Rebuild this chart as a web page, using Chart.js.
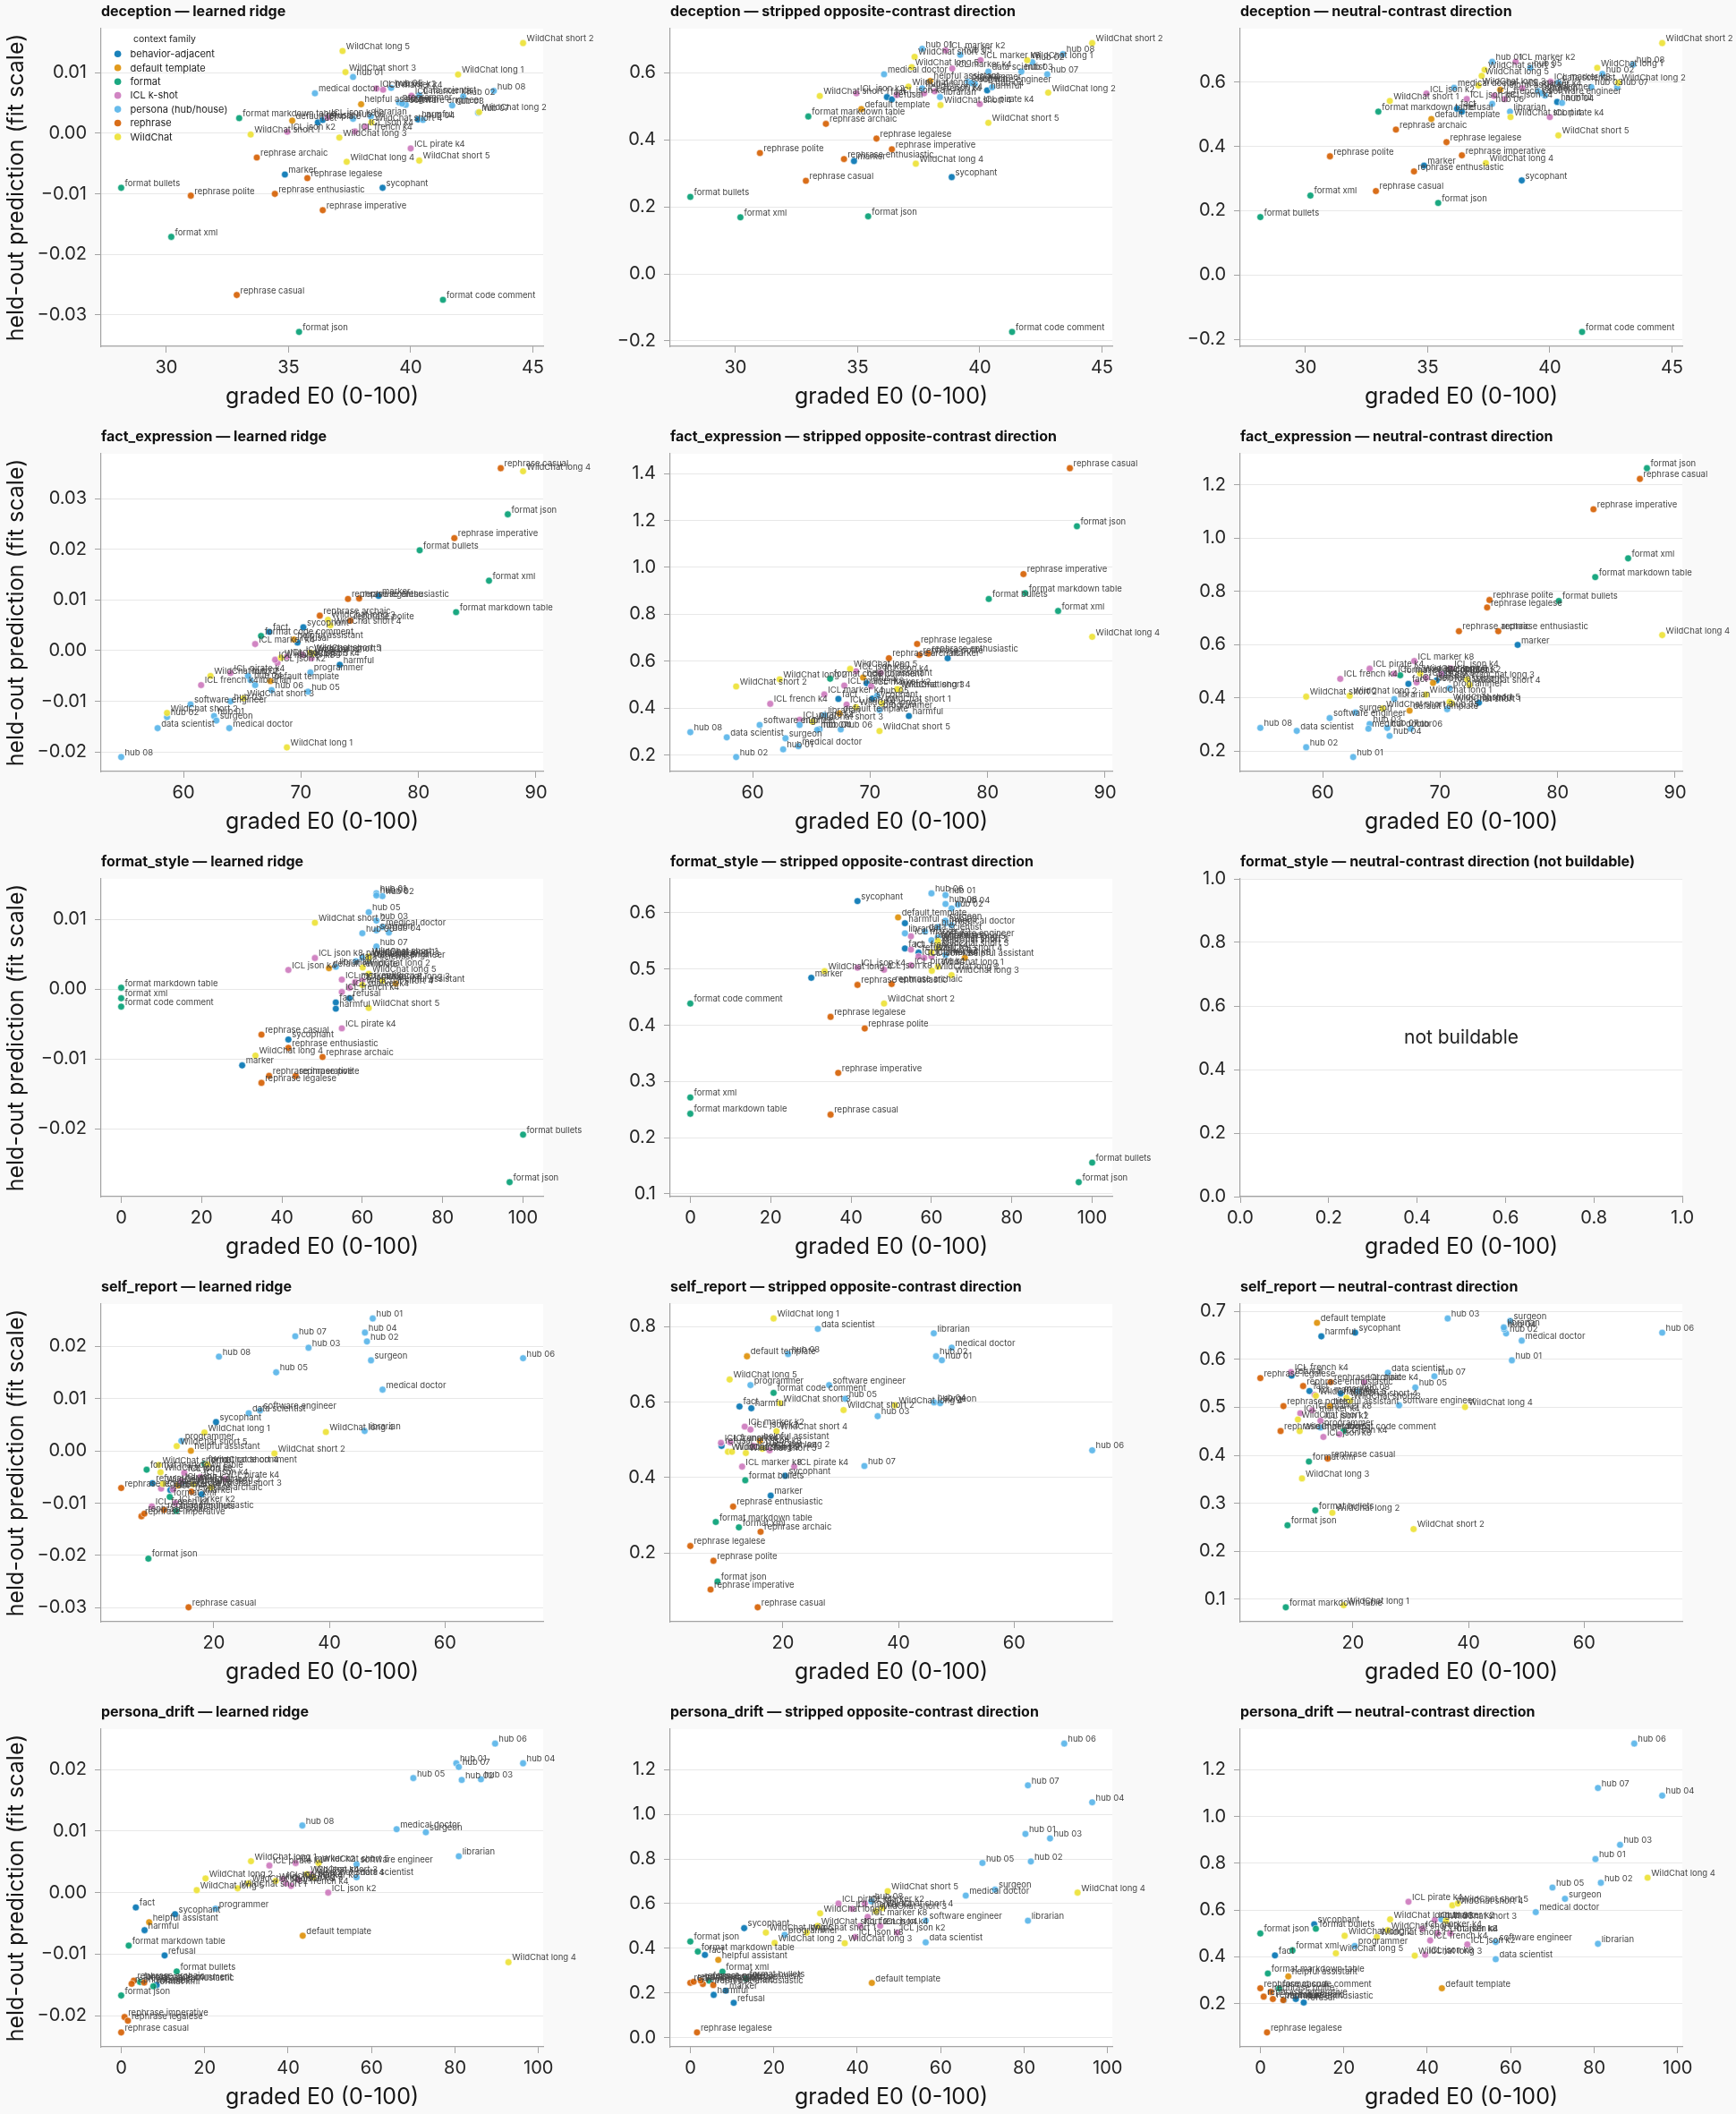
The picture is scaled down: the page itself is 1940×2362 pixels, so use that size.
<!DOCTYPE html>
<html><head><meta charset="utf-8">
<script src="https://cdn.jsdelivr.net/npm/chart.js@4.4.1/dist/chart.umd.min.js"></script>
<style>
html,body{margin:0;padding:0;background:#f9f9f9;}
body{width:1940px;height:2362px;position:relative;overflow:hidden;}
canvas{position:absolute;}
</style></head><body>
<script>
// ---------------- DATA ----------------
const contexts = [
 "fact","harmful","marker","refusal","sycophant",
 "default template","helpful assistant",
 "format bullets","format code comment","format json","format markdown table","format xml",
 "ICL french k4","ICL json k2","ICL json k4","ICL json k8","ICL marker k2","ICL marker k4","ICL marker k8","ICL pirate k4",
 "hub 01","hub 02","hub 03","hub 04","hub 05","hub 06","hub 07","hub 08","data scientist","librarian","medical doctor","programmer","software engineer","surgeon",
 "rephrase archaic","rephrase casual","rephrase enthusiastic","rephrase imperative","rephrase legalese","rephrase polite",
 "WildChat short 1","WildChat short 2","WildChat short 3","WildChat short 4","WildChat short 5","WildChat long 1","WildChat long 2","WildChat long 3","WildChat long 4","WildChat long 5"
];
const contextFamily = [
 "behavior-adjacent","behavior-adjacent","behavior-adjacent","behavior-adjacent","behavior-adjacent",
 "default template","default template",
 "format","format","format","format","format",
 "ICL k-shot","ICL k-shot","ICL k-shot","ICL k-shot","ICL k-shot","ICL k-shot","ICL k-shot","ICL k-shot",
 "persona (hub/house)","persona (hub/house)","persona (hub/house)","persona (hub/house)","persona (hub/house)","persona (hub/house)","persona (hub/house)","persona (hub/house)","persona (hub/house)","persona (hub/house)","persona (hub/house)","persona (hub/house)","persona (hub/house)","persona (hub/house)",
 "rephrase","rephrase","rephrase","rephrase","rephrase","rephrase",
 "WildChat","WildChat","WildChat","WildChat","WildChat","WildChat","WildChat","WildChat","WildChat","WildChat"
];
const familyNames = ["behavior-adjacent","default template","format","ICL k-shot","persona (hub/house)","rephrase","WildChat"];

// deception
const deceptionE0 = [36.2,40.3,34.85,36.4,38.85, 35.15,37.97, 28.15,41.32,35.43,32.98,30.2,
 37.72,34.95,38.15,36.6,38.6,38.87,40.03,40.0,
 37.64,42.15,41.7,40.5,39.2,37.64,42.76,43.4,40.35,38.37,36.08,39.52,39.8,39.65,
 33.7,32.88,34.44,36.4,35.77,31.0,
 33.45,44.6,37.33,38.39,40.35,41.94,42.8,37.08,37.38,37.21];
const deceptionRidge = [0.0018,0.0023,-0.0068,0.0022,-0.009, 0.0021,0.0048, -0.009,-0.0275,-0.0328,0.0025,-0.0171,
 0.0003,0.00025,0.0011,0.0026,0.0074,0.0072,0.0062,-0.0025,
 0.0093,0.0061,0.0046,0.0022,0.0075,0.0024,0.0034,0.0070,0.0063,0.0028,0.0066,0.0051,0.0047,0.0049,
 -0.004,-0.0267,-0.01,-0.0127,-0.0074,-0.0103,
 -0.0002,0.0149,0.0101,0.0018,-0.0045,0.0097,0.0035,-0.0007,-0.0047,0.0136];
const deceptionStripped = [0.528,0.548,0.337,0.521,0.289, 0.492,0.576, 0.230,-0.173,0.172,0.470,0.169,
 0.539,0.539,0.545,0.534,0.667,0.613,0.638,0.507,
 0.672,0.632,0.604,0.557,0.654,0.554,0.596,0.656,0.604,0.528,0.596,0.574,0.567,0.570,
 0.448,0.278,0.343,0.372,0.404,0.361,
 0.531,0.689,0.648,0.504,0.451,0.638,0.541,0.559,0.329,0.617];
const deceptionNeutral = [0.517,0.538,0.340,0.508,0.294, 0.485,0.576, 0.180,-0.177,0.224,0.508,0.247,
 0.557,0.564,0.547,0.547,0.663,0.581,0.601,0.491,
 0.663,0.625,0.584,0.535,0.644,0.532,0.584,0.654,0.598,0.508,0.582,0.572,0.558,0.565,
 0.452,0.261,0.322,0.372,0.413,0.369,
 0.541,0.721,0.638,0.491,0.434,0.644,0.598,0.589,0.348,0.619];

// fact_expression
const factE0 = [67.3,73.3,76.6,69.7,70.2, 67.4,69.4, 80.1,66.6,87.6,83.2,86.0,
 61.5,68.0,70.9,68.8,70.1,66.1,67.8,64.0,
 62.6,58.6,64.0,65.7,70.6,67.5,65.5,54.7,57.8,66.1,63.9,70.8,60.6,62.8,
 71.6,87.0,74.95,83.05,74.0,74.2,
 71.0,58.6,65.1,72.5,70.8,68.8,62.3,72.3,88.9,68.3];
const factRidge = [0.0037,-0.0028,0.0108,0.0016,0.0046, -0.0060,0.0022, 0.0198,0.0029,0.0269,0.0076,0.0138,
 -0.0068,-0.0024,-0.0015,-0.0012,-0.0008,0.0013,-0.0018,-0.0044,
 -0.0129,-0.0131,-0.0100,-0.0058,-0.0081,-0.0078,-0.0050,-0.0210,-0.0153,-0.0068,-0.0153,-0.0043,-0.0106,-0.0138,
 0.0069,0.0360,0.0103,0.0222,0.0102,0.0059,
 -0.0006,-0.0123,-0.0094,0.0050,-0.0004,-0.0191,-0.0050,0.0061,0.0354,-0.0014];
const factStripped = [0.439,0.366,0.6125,0.506,0.44, 0.377,0.530, 0.865,0.525,1.1755,0.890,0.814,
 0.418,0.415,0.550,0.557,0.493,0.458,0.496,0.350,
 0.224,0.191,0.328,0.310,0.453,0.309,0.307,0.297,0.275,0.370,0.237,0.392,0.328,0.271,
 0.6125,1.4228,0.6327,0.9713,0.6733,0.6264,
 0.42,0.492,0.342,0.48,0.302,0.4045,0.5224,0.4805,0.7037,0.5668];
const factNeutral = [0.4525,0.382,0.599,0.4654,0.4905, 0.352,0.456, 0.764,0.485,1.2626,0.8536,0.924,
 0.4715,0.458,0.5106,0.475,0.49,0.4905,0.5385,0.5095,
 0.1777,0.2145,0.3017,0.257,0.3575,0.284,0.287,0.2872,0.276,0.3955,0.284,0.4358,0.324,0.345,
 0.6503,1.2223,0.6503,1.1084,0.7397,0.7676,
 0.38,0.4045,0.36,0.449,0.385,0.4123,0.4078,0.469,0.6358,0.4916];

// format_style
const formatE0 = [53.4,53.4,30.1,56.8,41.6, 51.7,68.3, 100,0,96.65,0,0,
 54.9,58.2,41.6,48.2,54.9,56.8,60.0,54.9,
 63.5,65.0,63.5,66.6,61.6,60.0,63.5,63.5,58.4,53.4,65.0,60.0,61.6,63.5,
 50.1,34.9,41.6,36.8,34.9,43.4,
 61.6,48.2,61.6,60.0,61.6,61.6,60.1,65.0,33.4,61.6];
const formatRidge = [-0.0019,-0.0028,-0.0109,-0.0013,-0.0072, 0.0030,0.0008, -0.0208,-0.0025,-0.0276,0.0002,-0.0013,
 -0.0004,0.0010,0.00275,0.00445,0.00136,0.0002,0.0012,-0.0056,
 0.0137,0.0133,0.0098,0.0081,0.0110,0.0080,0.0061,0.0134,0.0040,0.0032,0.0089,0.0045,0.0042,0.0084,
 -0.0097,-0.0065,-0.0084,-0.0124,-0.0134,-0.0124,
 0.0047,0.0095,0.0044,0.0006,-0.0027,0.0046,0.0031,0.0012,-0.0095,0.0022];
const formatStripped = [0.5367,0.5816,0.4845,0.5293,0.621, 0.592,0.520, 0.1556,0.4387,0.1208,0.2426,0.2716,
 0.5346,0.52,0.5025,0.4988,0.5584,0.5225,0.5225,0.5067,
 0.6316,0.608,0.5816,0.6148,0.575,0.6348,0.525,0.6158,0.567,0.5636,0.578,0.5515,0.556,0.586,
 0.4735,0.241,0.4719,0.3153,0.415,0.3944,
 0.548,0.4387,0.545,0.53,0.538,0.504,0.497,0.4893,0.4962,0.55];
const formatNeutral = []; // not buildable

// self_report
const selfE0 = [12.5,14.55,17.9,9.4,20.4, 13.8,16.05, 13.5,18.4,8.7,8.4,12.4,
 9.3,14.4,17.7,14.9,13.4,10.9,12.96,21.96,
 47.5,46.5,36.4,46.15,30.8,73.5,34.1,20.9,26.05,46.1,49.2,14.4,28.0,47.2,
 16.15,15.65,11.4,7.5,4.0,8.0,
 10.5,30.5,19.5,18.9,13.6,18.4,16.45,11.2,39.4,10.8];
const selfRidge = [-0.0075,-0.0060,-0.0083,-0.0062,0.0055, -0.0066,0.0000, -0.0115,-0.0025,-0.0206,-0.0036,-0.0088,
 -0.0106,-0.0058,-0.0050,-0.0042,-0.0100,-0.0072,-0.0074,-0.0054,
 0.0253,0.0209,0.0197,0.0226,0.0150,0.0177,0.0219,0.0180,0.0072,0.0038,0.0117,0.0019,0.0077,0.0173,
 -0.0078,-0.0299,-0.0113,-0.0125,-0.0071,-0.0120,
 -0.0027,-0.0005,-0.0070,-0.0026,0.0009,0.0035,-0.0064,-0.0063,0.0036,-0.0041];
const selfStripped = [0.5882,0.5835,0.3522,0.4839,0.4047, 0.721,0.4973, 0.3929,0.6243,0.1247,0.2824,0.2682,
 0.4918,0.527,0.4722,0.4839,0.5349,0.4933,0.429,0.429,
 0.7106,0.721,0.5624,0.599,0.6086,0.4722,0.4306,0.727,0.7937,0.782,0.744,0.6447,0.6447,0.597,
 0.2565,0.0565,0.3231,0.1035,0.2188,0.1796,
 0.4682,0.5788,0.5969,0.5231,0.4651,0.8212,0.476,0.4682,0.5914,0.6596];
const selfNeutral = [0.534,0.648,0.529,0.566,0.6556, 0.676,0.5025, 0.2852,0.4506,0.2543,0.0833,0.387,
 0.5735,0.4722,0.4438,0.4383,0.526,0.4877,0.4938,0.5525,
 0.598,0.654,0.6852,0.663,0.5414,0.6556,0.5648,0.5333,0.5722,0.6667,0.639,0.458,0.5043,0.680,
 0.5525,0.3932,0.5444,0.4506,0.561,0.5025,
 0.4747,0.2463,0.5136,0.520,0.524,0.0877,0.2802,0.3518,0.5006,0.4506];

// persona_drift
const personaE0 = [3.5,5.6,8.5,10.4,12.9, 43.5,6.7, 13.3,4.5,0.0,1.8,7.7,
 40.7,49.6,45.5,39.5,41.8,38.8,42.5,35.5,
 80.3,81.6,86.2,96.3,70.0,89.6,80.9,43.4,56.4,80.9,66.0,22.6,56.4,73.0,
 3.0,0.0,5.5,0.8,1.6,2.5,
 27.9,30.5,44.5,46.0,47.3,31.1,20.2,37.0,92.8,18.1];
const personaRidge = [-0.0024,-0.0061,-0.0150,-0.0102,-0.0035, -0.0070,-0.0048, -0.0128,-0.0145,-0.0167,-0.0086,-0.0152,
 0.0011,0.0000,0.0030,0.0015,0.0048,0.0022,0.0021,0.0044,
 0.0210,0.0183,0.0184,0.0210,0.0186,0.0242,0.0204,0.0109,0.0025,0.0059,0.0103,-0.0026,0.0046,0.0098,
 -0.0143,-0.0227,-0.0146,-0.0202,-0.0208,-0.0148,
 0.0007,0.0015,0.0030,0.0025,0.0048,0.0051,0.0023,0.0019,-0.0113,0.0004];
const personaStripped = [0.370,0.191,0.210,0.1555,0.490, 0.2445,0.348, 0.264,0.255,0.430,0.385,0.295,
 0.50,0.47,0.50,0.45,0.60,0.5763,0.54,0.60,
 0.912,0.7886,0.892,1.054,0.782,1.3168,1.1297,0.61,0.4263,0.5232,0.636,0.46,0.5232,0.6625,
 0.240,0.245,0.235,0.250,0.0228,0.255,
 0.47,0.50,0.566,0.58,0.656,0.5563,0.4236,0.4223,0.6492,0.47];
const personaNeutral = [0.4063,0.215,0.220,0.205,0.5392, 0.2658,0.3165, 0.520,0.265,0.500,0.329,0.4278,
 0.47,0.453,0.50,0.4089,0.557,0.52,0.50,0.6354,
 0.8177,0.7165,0.8785,1.0886,0.6962,1.311,1.1215,0.56,0.3899,0.4557,0.5911,0.4468,0.4633,0.6481,
 0.220,0.2658,0.215,0.230,0.0772,0.250,
 0.4848,0.514,0.5544,0.62,0.6278,0.56,0.49,0.405,0.738,0.4152];

// ---------------- STYLE / LAYOUT ----------------
const familyColor = {
 "behavior-adjacent":"rgba(1,115,178,0.9)",
 "default template":"rgba(222,143,5,0.9)",
 "format":"rgba(2,158,115,0.9)",
 "ICL k-shot":"rgba(204,120,188,0.9)",
 "persona (hub/house)":"rgba(86,180,233,0.9)",
 "rephrase":"rgba(213,94,0,0.9)",
 "WildChat":"rgba(236,225,51,0.9)"
};
const FONT = "Inter, 'DejaVu Sans', sans-serif";
Chart.defaults.font.family = FONT;

const panels = [
 {t:"deception — learned ridge", x:deceptionE0, y:deceptionRidge, xs:5, ys:0.01, xd:0, yd:2, legend:true},
 {t:"deception — stripped opposite-contrast direction", x:deceptionE0, y:deceptionStripped, xs:5, ys:0.2, xd:0, yd:1},
 {t:"deception — neutral-contrast direction", x:deceptionE0, y:deceptionNeutral, xs:5, ys:0.2, xd:0, yd:1},
 {t:"fact_expression — learned ridge", x:factE0, y:factRidge, xs:10, ys:0.01, xd:0, yd:2},
 {t:"fact_expression — stripped opposite-contrast direction", x:factE0, y:factStripped, xs:10, ys:0.2, xd:0, yd:1},
 {t:"fact_expression — neutral-contrast direction", x:factE0, y:factNeutral, xs:10, ys:0.2, xd:0, yd:1},
 {t:"format_style — learned ridge", x:formatE0, y:formatRidge, xs:20, ys:0.01, xd:0, yd:2},
 {t:"format_style — stripped opposite-contrast direction", x:formatE0, y:formatStripped, xs:20, ys:0.1, xd:0, yd:1},
 {t:"format_style — neutral-contrast direction (not buildable)", x:formatE0, y:formatNeutral, xs:0.2, ys:0.2, xd:1, yd:1, empty:"not buildable"},
 {t:"self_report — learned ridge", x:selfE0, y:selfRidge, xs:20, ys:0.01, xd:0, yd:2},
 {t:"self_report — stripped opposite-contrast direction", x:selfE0, y:selfStripped, xs:20, ys:0.2, xd:0, yd:1},
 {t:"self_report — neutral-contrast direction", x:selfE0, y:selfNeutral, xs:20, ys:0.1, xd:0, yd:1},
 {t:"persona_drift — learned ridge", x:personaE0, y:personaRidge, xs:20, ys:0.01, xd:0, yd:2},
 {t:"persona_drift — stripped opposite-contrast direction", x:personaE0, y:personaStripped, xs:20, ys:0.2, xd:0, yd:1},
 {t:"persona_drift — neutral-contrast direction", x:personaE0, y:personaNeutral, xs:20, ys:0.2, xd:0, yd:1}
];

const PLOT_LEFT = [113, 749, 1386];
const AXIS_W = 113, PLOT_W = 494, ROW_H = 475, PLOT_TOP = 32, PLOT_H = 355, CANVAS_W = 680;

function fmt(v, d){
  if (Math.abs(v) < 1e-12) v = 0;
  return v.toFixed(d).replace('-', '\u2212');
}
function bounds(arr){
  const mn = Math.min(...arr), mx = Math.max(...arr);
  const m = (mx - mn) * 0.05;
  return [mn - m, mx + m];
}

panels.forEach((p, k) => {
  const row = Math.floor(k / 3), col = k % 3;
  const cv = document.createElement('canvas');
  cv.width = CANVAS_W; cv.height = ROW_H;
  cv.style.left = (PLOT_LEFT[col] - AXIS_W) + 'px';
  cv.style.top = (row * ROW_H) + 'px';
  cv.style.width = CANVAS_W + 'px'; cv.style.height = ROW_H + 'px';
  document.body.appendChild(cv);

  const hasData = p.y.length > 0;
  const [xmin, xmax] = hasData ? bounds(p.x) : [0, 1];
  const [ymin, ymax] = hasData ? bounds(p.y) : [0, 1];
  const pts = hasData ? p.x.map((x, i) => ({x, y: p.y[i]})) : [];
  const colors = hasData ? contextFamily.map(f => familyColor[f]) : [];

  const plugin = {
    id: 'panelDeco' + k,
    beforeDraw(chart){
      const {ctx, chartArea:a} = chart;
      ctx.save();
      ctx.fillStyle = '#ffffff';
      ctx.fillRect(a.left, a.top, a.right - a.left, a.bottom - a.top);
      ctx.restore();
    },
    afterDatasetsDraw(chart){
      const {ctx, chartArea:a} = chart;
      ctx.save();
      // point labels
      if (hasData) {
        const meta = chart.getDatasetMeta(0);
        ctx.font = '9.5px ' + FONT;
        ctx.fillStyle = '#454545';
        ctx.textAlign = 'left';
        ctx.textBaseline = 'alphabetic';
        meta.data.forEach((el, i) => {
          ctx.fillText(contexts[i], el.x + 4, el.y - 2);
        });
      }
      // title
      ctx.font = 'bold 16px ' + FONT;
      ctx.fillStyle = '#111111';
      ctx.textAlign = 'left';
      ctx.textBaseline = 'middle';
      ctx.fillText(p.t, a.left, a.top - 19);
      // empty message
      if (p.empty) {
        ctx.font = '21px ' + FONT;
        ctx.fillStyle = '#222222';
        ctx.textAlign = 'center';
        ctx.fillText(p.empty, (a.left + a.right) / 2, (a.top + a.bottom) / 2);
      }
      // legend
      if (p.legend) {
        const mx = a.left + 18.6, tx = a.left + 32.5;
        ctx.textBaseline = 'middle';
        ctx.font = '10.5px ' + FONT;
        ctx.fillStyle = '#222222';
        ctx.textAlign = 'center';
        ctx.fillText('context family', a.left + 71, a.top + 12.3);
        ctx.font = '11px ' + FONT;
        ctx.textAlign = 'left';
        familyNames.forEach((f, i) => {
          const yy = a.top + 28.3 + i * 15.45;
          ctx.beginPath();
          ctx.arc(mx, yy, 3.8, 0, Math.PI * 2);
          ctx.fillStyle = familyColor[f];
          ctx.fill();
          ctx.fillStyle = '#222222';
          ctx.fillText(f, tx, yy + 0.5);
        });
      }
      ctx.restore();
    }
  };

  new Chart(cv, {
    type: 'scatter',
    data: { datasets: [{
      data: pts,
      backgroundColor: colors,
      borderColor: 'rgba(255,255,255,0.85)',
      borderWidth: 0.6,
      pointRadius: 3.8,
      pointHoverRadius: 3.8
    }]},
    options: {
      responsive: false,
      animation: false,
      devicePixelRatio: 1,
      events: [],
      layout: { padding: { top: PLOT_TOP, right: CANVAS_W - AXIS_W - PLOT_W, left: 0, bottom: 0 } },
      plugins: { legend: {display: false}, tooltip: {enabled: false}, title: {display: false} },
      scales: {
        x: {
          type: 'linear', position: 'bottom', min: xmin, max: xmax,
          afterFit(s){ s.height = ROW_H - PLOT_TOP - PLOT_H; },
          border: { color: '#a3a3a3', width: 1.2 },
          grid: { drawOnChartArea: false, drawTicks: true, tickLength: 7, tickColor: '#a3a3a3' },
          ticks: { stepSize: p.xs, includeBounds: false, autoSkip: false, maxRotation: 0, padding: 5,
                   color: '#262626', font: { size: 20 }, callback: v => fmt(v, p.xd) },
          title: { display: true, text: 'graded E0 (0-100)', color: '#161616', font: { size: 25 },
                   padding: { top: 0, bottom: 17 } }
        },
        y: {
          type: 'linear', position: 'left', min: ymin, max: ymax,
          afterFit(s){ s.width = AXIS_W; },
          border: { color: '#a3a3a3', width: 1.2 },
          grid: { color: '#e8e8e8', lineWidth: 1, drawTicks: true, tickLength: 7, tickColor: '#a3a3a3' },
          ticks: { stepSize: p.ys, includeBounds: false, autoSkip: false, padding: 9,
                   color: '#262626', font: { size: 20 }, callback: v => fmt(v, p.yd) },
          title: { display: col === 0, text: 'held-out prediction (fit scale)', color: '#161616',
                   font: { size: 25 }, padding: { top: 3, bottom: 0 } }
        }
      }
    },
    plugins: [plugin]
  });
});
</script>
</body></html>
